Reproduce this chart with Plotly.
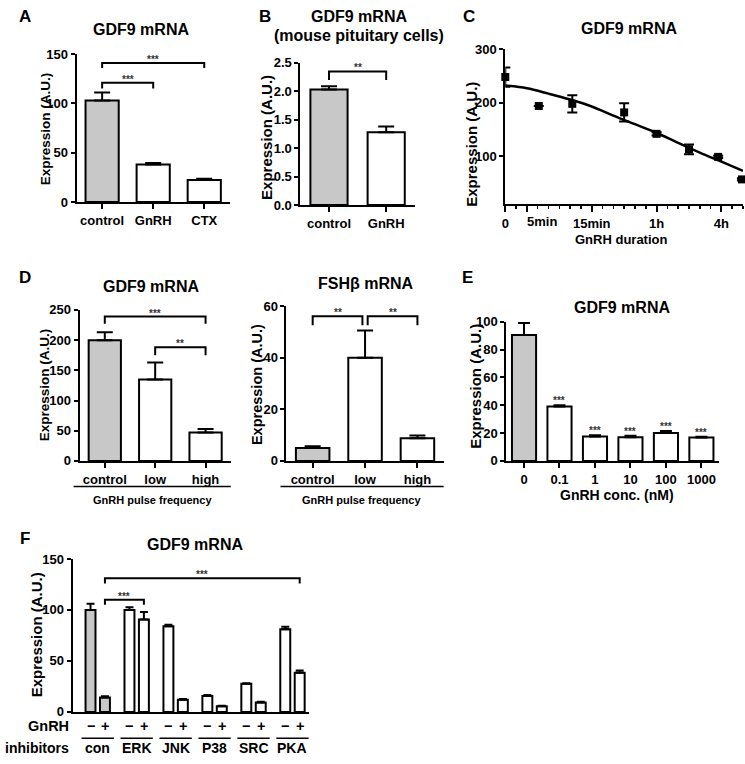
import plotly.graph_objects as go

W, H = 745, 764
FONT = "Liberation Sans, Arial, Helvetica, sans-serif"
GRAY = "#c8c8c8"

# ------------------------------------------------------------------ data
a_cats = ["control", "GnRH", "CTX"]
a_vals = [103, 38, 22.5]
a_err = [8, 1.5, 1.2]

b_cats = ["control", "GnRH"]
b_vals = [2.03, 1.28]
b_err = [0.06, 0.10]

c_tick_pos = [0, 2, 8, 14, 20]
c_tick_text = ["0", "", "15min", "1h", "4h"]
c_pos = [0, 3.1, 6.2, 11, 14, 17, 19.7, 21.9]
c_vals = [248, 194, 198, 182, 142, 113, 99, 57]
c_err = [18, 0, 16, 17, 3, 9, 2, 2]
c_fit_pos = [0, 2, 4, 6, 8, 10, 12, 14, 16, 18, 20, 22]
c_fit_vals = [232, 227, 217, 206, 193, 176, 160, 144, 125, 107, 90, 73]

d1_cats = ["control", "low", "high"]
d1_vals = [200, 135, 47]
d1_err = [13, 28, 6]

d2_cats = ["control", "low", "high"]
d2_vals = [5, 40, 8.8]
d2_err = [0.7, 10.5, 1.0]

e_cats = ["0", "0.1", "1", "10", "100", "1000"]
e_vals = [90.5, 39, 17.5, 17, 20, 16.8]
e_err = [8.5, 1.0, 1.0, 1.0, 1.5, 0.6]
e_sig = ["", "***", "***", "***", "***", "***"]

f_groups = ["con", "ERK", "JNK", "P38", "SRC", "PKA"]
f_minus = [100, 100, 84, 15.5, 27.5, 81]
f_minus_err = [6, 2.6, 1.5, 1.0, 0.6, 2.5]
f_plus = [14, 90.5, 12, 5.5, 9.3, 38.5]
f_plus_err = [1.3, 7.5, 0.6, 0.5, 0.6, 2.0]

# ------------------------------------------------------------------ helpers
def xd(x0, x1):
    return [x0 / W, x1 / W]

def yd(ytop, ybot):
    return [1 - ybot / H, 1 - ytop / H]

def px(x):
    return x / W

def py(y):
    return 1 - y / H

annotations = []
shapes = []

def txt(x, y, s, size=13, xref="paper", yref="paper", angle=0,
        xanchor="center", yanchor="middle", color="black", yshift=0):
    annotations.append(dict(
        x=x, y=y, text=s, xref=xref, yref=yref, showarrow=False,
        textangle=angle, xanchor=xanchor, yanchor=yanchor, yshift=yshift,
        font=dict(family=FONT, size=size, color=color, weight="bold")))

def ptxt(x, y, s, **kw):
    txt(px(x), py(y), s, **kw)

def bracket(ax, x0, x1, level, drop, label="***"):
    xr, yr = "x" + ax, "y" + ax
    shapes.append(dict(
        type="path", xref=xr, yref=yr,
        path=f"M {x0},{level - drop} L {x0},{level} L {x1},{level} L {x1},{level - drop}",
        line=dict(color="black", width=2)))
    txt((x0 + x1) / 2, level, label, size=10, xref=xr, yref=yr,
        yanchor="bottom", color="#333333", yshift=-4)

def yaxis_style(domain, rng, tickvals, anchor, fmt=None):
    d = dict(domain=domain, range=rng, tickvals=tickvals, anchor=anchor,
             showline=True, linewidth=2, linecolor="black", ticks="outside",
             ticklen=4, tickwidth=2, tickcolor="black", showgrid=False,
             zeroline=False,
             tickfont=dict(family=FONT, size=13, color="black", weight="bold"))
    if fmt:
        d["tickformat"] = fmt
    return d

def xaxis_style(domain, rng, tickvals, ticktext, anchor, ticks="outside"):
    return dict(domain=domain, range=rng, tickvals=tickvals, ticktext=ticktext,
                anchor=anchor, showline=True, linewidth=2, linecolor="black",
                ticks=ticks, ticklen=5, tickwidth=2, tickcolor="black",
                showgrid=False, zeroline=False,
                tickfont=dict(family=FONT, size=13, color="black", weight="bold"))

def bar_trace(ax, xs, vals, errs, colors, width=0.65, capw=8):
    return go.Bar(
        x=xs, y=vals, width=width, xaxis="x" + ax, yaxis="y" + ax,
        marker=dict(color=colors, line=dict(color="black", width=2)),
        error_y=dict(type="data", array=errs, arrayminus=[0] * len(errs),
                     symmetric=False, color="black", thickness=2, width=capw),
        showlegend=False, hoverinfo="skip", cliponaxis=False)

fig = go.Figure()
layout = {}

# ------------------------------------------------------------------ A
ia = list(range(len(a_cats)))
fig.add_trace(bar_trace("", ia, a_vals, a_err, [GRAY] + ["white"] * 2))
layout["xaxis"] = xaxis_style(xd(73, 227), [-0.5, 2.5], ia, a_cats, "y")
layout["yaxis"] = yaxis_style(yd(48, 199), [0, 150], [0, 50, 100, 150], "x")
bracket("", 0, 1, 121, 6)
bracket("", 0, 2, 141, 5)
ptxt(138, 23, "GDF9 mRNA", size=16)
ptxt(42, 124, "Expression (A.U.)", size=13.5, angle=-90)
ptxt(21, 10, "A", size=17)

# ------------------------------------------------------------------ B
ib = list(range(len(b_cats)))
fig.add_trace(bar_trace("2", ib, b_vals, b_err, [GRAY, "white"]))
layout["xaxis2"] = xaxis_style(xd(298, 413), [-0.5, 1.5], ib, b_cats, "y2")
layout["yaxis2"] = yaxis_style(yd(57, 202), [0, 2.5], [0, 0.5, 1, 1.5, 2, 2.5], "x2", ".1f")
bracket("2", 0, 1, 2.35, 0.15, "**")
ptxt(357, 10, "GDF9 mRNA", size=16)
ptxt(357, 29, "(mouse pituitary cells)", size=16)
ptxt(264, 133, "Expression (A.U.)", size=15, angle=-90)
ptxt(262, 10, "B", size=17)

# ------------------------------------------------------------------ C
fig.add_trace(go.Scatter(
    x=c_fit_pos, y=c_fit_vals, mode="lines", line=dict(color="black", width=2.5, shape="spline"),
    xaxis="x3", yaxis="y3", showlegend=False, hoverinfo="skip", cliponaxis=False))
fig.add_trace(go.Scatter(
    x=c_pos, y=c_vals, mode="markers",
    marker=dict(symbol="square", size=8, color="black"),
    error_y=dict(type="data", array=c_err, color="black", thickness=2, width=5),
    xaxis="x3", yaxis="y3", showlegend=False, hoverinfo="skip", cliponaxis=False))
cx = xaxis_style(xd(504, 743), [0, 22], c_tick_pos, c_tick_text, "y3")
cx["ticklen"] = 6
cx["minor"] = dict(dtick=1, tick0=0, ticks="outside", ticklen=3, tickwidth=1.5, tickcolor="black")
layout["xaxis3"] = cx
layout["yaxis3"] = yaxis_style(yd(43, 201), [11, 300], [100, 200, 300], "x3")
txt(3.4, py(219), "5min", size=13, xref="x3")
ptxt(628, 22, "GDF9 mRNA", size=16)
ptxt(620, 237, "GnRH duration", size=13)
ptxt(470, 140, "Expression (A.U.)", size=15, angle=-90)
ptxt(468, 10, "C", size=17)

# ------------------------------------------------------------------ D (left)
id1 = list(range(len(d1_cats)))
fig.add_trace(bar_trace("4", id1, d1_vals, d1_err, [GRAY] + ["white"] * 2, width=0.64))
layout["xaxis4"] = xaxis_style(xd(76, 228), [-0.5, 2.5], id1, d1_cats, "y4")
layout["yaxis4"] = yaxis_style(yd(309, 463), [0, 250], [0, 50, 100, 150, 200, 250], "x4")
bracket("4", 0, 2, 239, 12)
bracket("4", 1, 2, 188, 13, "**")
ptxt(148, 285, "GDF9 mRNA", size=16)
ptxt(41, 385, "Expression (A.U.)", size=13.5, angle=-90)
ptxt(21, 276, "D", size=17)
shapes.append(dict(type="line", xref="paper", yref="paper", x0=px(70), x1=px(228),
                   y0=py(489), y1=py(489), line=dict(color="black", width=1.5)))
ptxt(149, 503, "GnRH pulse frequency", size=11)

# ------------------------------------------------------------------ D (right)
id2 = list(range(len(d2_cats)))
fig.add_trace(bar_trace("5", id2, d2_vals, d2_err, [GRAY] + ["white"] * 2, width=0.64))
layout["xaxis5"] = xaxis_style(xd(284, 442), [-0.5, 2.5], id2, d2_cats, "y5")
layout["yaxis5"] = yaxis_style(yd(305, 463), [0, 60], [0, 20, 40, 60], "x5")
bracket("5", 0, 0.95, 56, 3.5, "**")
bracket("5", 1.05, 2, 56, 3.5, "**")
ptxt(364, 282, "FSHβ mRNA", size=16)
ptxt(255, 385, "Expression (A.U.)", size=14.5, angle=-90)
shapes.append(dict(type="line", xref="paper", yref="paper", x0=px(278), x1=px(442),
                   y0=py(489), y1=py(489), line=dict(color="black", width=1.5)))
ptxt(359, 503, "GnRH pulse frequency", size=11)

# ------------------------------------------------------------------ E
ie = list(range(len(e_cats)))
fig.add_trace(bar_trace("6", ie, e_vals, e_err, [GRAY] + ["white"] * 5, width=0.68, capw=6))
layout["xaxis6"] = xaxis_style(xd(505, 719), [-0.5, 5.5], ie, e_cats, "y6")
layout["yaxis6"] = yaxis_style(yd(321, 463), [0, 100], [0, 20, 40, 60, 80, 100], "x6")
for i, s in enumerate(e_sig):
    if s:
        txt(i, e_vals[i] + e_err[i], s, size=10, xref="x6", yref="y6",
            yanchor="bottom", color="#333333", yshift=-3)
ptxt(621, 307, "GDF9 mRNA", size=16)
ptxt(616, 498, "GnRH conc. (nM)", size=14)
ptxt(474, 387, "Expression (A.U.)", size=15, angle=-90)
ptxt(466, 276, "E", size=17)

# ------------------------------------------------------------------ F
GAP = 2.7
f_xm = [i * GAP for i in range(len(f_groups))]
f_xp = [i * GAP + 1 for i in range(len(f_groups))]
f_cols = [GRAY] + ["white"] * (len(f_groups) - 1)
fig.add_trace(bar_trace("7", f_xm, f_minus, f_minus_err, f_cols, width=0.69, capw=4))
fig.add_trace(bar_trace("7", f_xp, f_plus, f_plus_err, f_cols, width=0.69, capw=4))
fx = xaxis_style(xd(69, 307), [-1.24, 15.17], [], [], "y7", ticks="")
fx["showticklabels"] = False
layout["xaxis7"] = fx
layout["yaxis7"] = yaxis_style(yd(563, 719), [0, 150], [0, 50, 100, 150], "x7")
bracket("7", f_xp[0], f_xp[1], 110, 5)
bracket("7", f_xp[0], f_xp[5], 131, 5)
ptxt(192, 548, "GDF9 mRNA", size=16)
ptxt(33, 640, "Expression (A.U.)", size=15, angle=-90)
ptxt(21, 542, "F", size=17)
ptxt(67, 733, "GnRH", size=14.5, xanchor="right")
ptxt(67, 756, "inhibitors", size=14, xanchor="right")
for i, g in enumerate(f_groups):
    txt(f_xm[i], py(733), "−", size=14.5, xref="x7")
    txt(f_xp[i], py(733), "+", size=14.5, xref="x7")
    shapes.append(dict(type="line", xref="x7", yref="paper",
                       x0=f_xm[i] - 0.62, x1=f_xp[i] + 0.62, y0=py(746), y1=py(746),
                       line=dict(color="black", width=1.5)))
    txt((f_xm[i] + f_xp[i]) / 2, py(756), g, size=14, xref="x7")

layout.update(dict(
    width=W, height=H, autosize=False,
    margin=dict(l=0, r=0, t=0, b=0),
    paper_bgcolor="white", plot_bgcolor="white",
    showlegend=False, barmode="overlay", hovermode=False,
    annotations=annotations, shapes=shapes,
    font=dict(family=FONT, size=13, color="black"),
))
fig.update_layout(**layout)
fig.write_html("out.html", config={"displayModeBar": False, "staticPlot": True},
               post_script="document.body.style.margin='0';document.body.style.overflow='hidden';")
